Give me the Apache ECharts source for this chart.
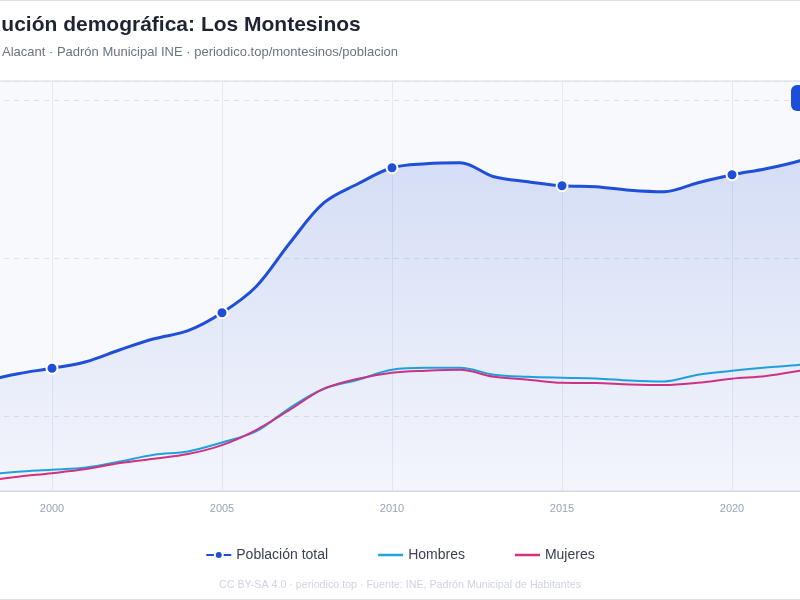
<!DOCTYPE html>
<html>
<head>
<meta charset="utf-8">
<script src="https://cdn.jsdelivr.net/npm/echarts@6/dist/echarts.min.js"></script>
<style>
  html, body { margin: 0; padding: 0; overflow: hidden; background: #fff; }
  #card {
    position: absolute; left: -101px; top: 0;
    width: 1002px; height: 600px; box-sizing: border-box;
    border: 1px solid #dcdfe7; background: #fff;
  }
  #chart { width: 1000px; height: 598px; }
</style>
</head>
<body>
<div id="card"><div id="chart"></div></div>
<script>
// Padrón municipal, Los Montesinos
var years = [1998, 1999, 2000, 2001, 2002, 2003, 2004, 2005, 2006, 2007, 2008, 2009, 2010,
  2011, 2012, 2013, 2014, 2015, 2016, 2017, 2018, 2019, 2020, 2021, 2022, 2023, 2024];
var total = [2450, 2545, 2614, 2696, 2848, 2987, 3089, 3316, 3646, 4203, 4709, 4949, 5152,
  5203, 5215, 5038, 4975, 4924, 4911, 4867, 4848, 4962, 5063, 5139, 5241, 5380, 5481];
var hombres = [1266, 1304, 1329, 1358, 1434, 1519, 1561, 1675, 1814, 2114, 2354, 2468, 2595,
  2620, 2620, 2532, 2506, 2494, 2485, 2459, 2447, 2532, 2582, 2624, 2658, 2720, 2770];
var mujeres = [1184, 1241, 1285, 1338, 1414, 1468, 1528, 1641, 1832, 2089, 2355, 2481, 2557,
  2583, 2595, 2506, 2469, 2430, 2426, 2408, 2401, 2430, 2481, 2515, 2583, 2660, 2711];

function pairs(arr) {
  return years.map(function (y, i) { return [y, arr[i]]; });
}

var font = 'Liberation Sans, Arial, sans-serif';
// plain line icon for the legend (25 x 10 box, 2.4px bar in the middle)
var lineIcon = 'path://M0,0L25,0Z M0,3.8L25,3.8L25,6.2L0,6.2Z M0,10L25,10Z';

var chart = echarts.init(document.getElementById('chart'));

var option = {
  textStyle: { fontFamily: font },
  title: [
    {
      text: 'Evolución demográfica: Los Montesinos',
      left: 57, top: 14, padding: 0,
      textStyle: { fontSize: 21, fontWeight: 'bold', color: '#1e2433', fontFamily: font }
    },
    {
      text: 'Alacant · Padrón Municipal INE · periodico.top/montesinos/poblacion',
      left: 102, top: 45, padding: 0,
      textStyle: { fontSize: 13, fontWeight: 'normal', color: '#6b7386', fontFamily: font }
    }
  ],
  legend: {
    bottom: 32,
    left: 'center',
    itemWidth: 25,
    itemHeight: 10,
    itemGap: 50,
    textStyle: { fontSize: 14, color: '#3a4150', fontFamily: font },
    data: [
      { name: 'Población total' },
      { name: 'Hombres', icon: lineIcon },
      { name: 'Mujeres', icon: lineIcon }
    ]
  },
  grid: {
    left: 84, right: 32, top: 80, bottom: 108,
    show: true,
    backgroundColor: '#f8f9fc',
    borderColor: '#d3d9e6',
    borderWidth: 1
  },
  xAxis: {
    type: 'value',
    min: 1998,
    max: 2024,
    splitNumber: 5,
    axisLine: { show: true, lineStyle: { color: '#d4d8e0' } },
    axisTick: { show: false },
    axisLabel: {
      color: '#9aa3b5', fontSize: 11, margin: 12,
      showMinLabel: false, showMaxLabel: false,
      formatter: function (v) { return String(v); }
    },
    splitLine: { show: true, lineStyle: { color: '#e6e9f0', width: 1 } }
  },
  yAxis: {
    type: 'value',
    min: 1060,
    max: 6250,
    splitNumber: 3,
    axisLine: { show: false },
    axisTick: { show: false },
    axisLabel: {
      color: '#9aa3b5', fontSize: 11,
      formatter: function (v) { return v.toLocaleString('es-ES'); }
    },
    splitLine: { show: true, lineStyle: { color: '#dde1ea', type: [5, 5] } }
  },
  graphic: [
    {
      type: 'rect',
      left: 891, top: 84, z: 100,
      shape: { width: 112, height: 26, r: 6 },
      style: { fill: '#1d4ed8' }
    },
    {
      type: 'text',
      left: 'center', top: 579,
      style: {
        text: 'CC BY-SA 4.0 · periodico.top · Fuente: INE, Padrón Municipal de Habitantes',
        fill: '#d0d4de', font: '10.7px ' + font
      }
    }
  ],
  series: [
    {
      name: 'Población total',
      type: 'line',
      smooth: 0.35,
      data: pairs(total),
      symbol: 'circle',
      symbolSize: function (v) { return v[0] % 5 === 0 ? 11 : 0; },
      color: '#1f4fd8',
      lineStyle: { width: 3, color: '#1f4fd8' },
      itemStyle: { color: '#1f4fd8', borderColor: '#fff', borderWidth: 2 },
      areaStyle: {
        color: new echarts.graphic.LinearGradient(0, 0, 0, 1, [
          { offset: 0, color: 'rgba(31,79,216,0.24)' },
          { offset: 1, color: 'rgba(31,79,216,0.03)' }
        ])
      },
      z: 3
    },
    {
      name: 'Hombres',
      type: 'line',
      smooth: 0.35,
      data: pairs(hombres),
      symbol: 'none',
      color: '#1ea5de',
      lineStyle: { width: 2, color: '#1ea5de' },
      z: 2
    },
    {
      name: 'Mujeres',
      type: 'line',
      smooth: 0.35,
      data: pairs(mujeres),
      symbol: 'none',
      color: '#d9307c',
      lineStyle: { width: 2, color: '#d9307c' },
      z: 2
    }
  ]
};

chart.setOption(option);
</script>
</body>
</html>
